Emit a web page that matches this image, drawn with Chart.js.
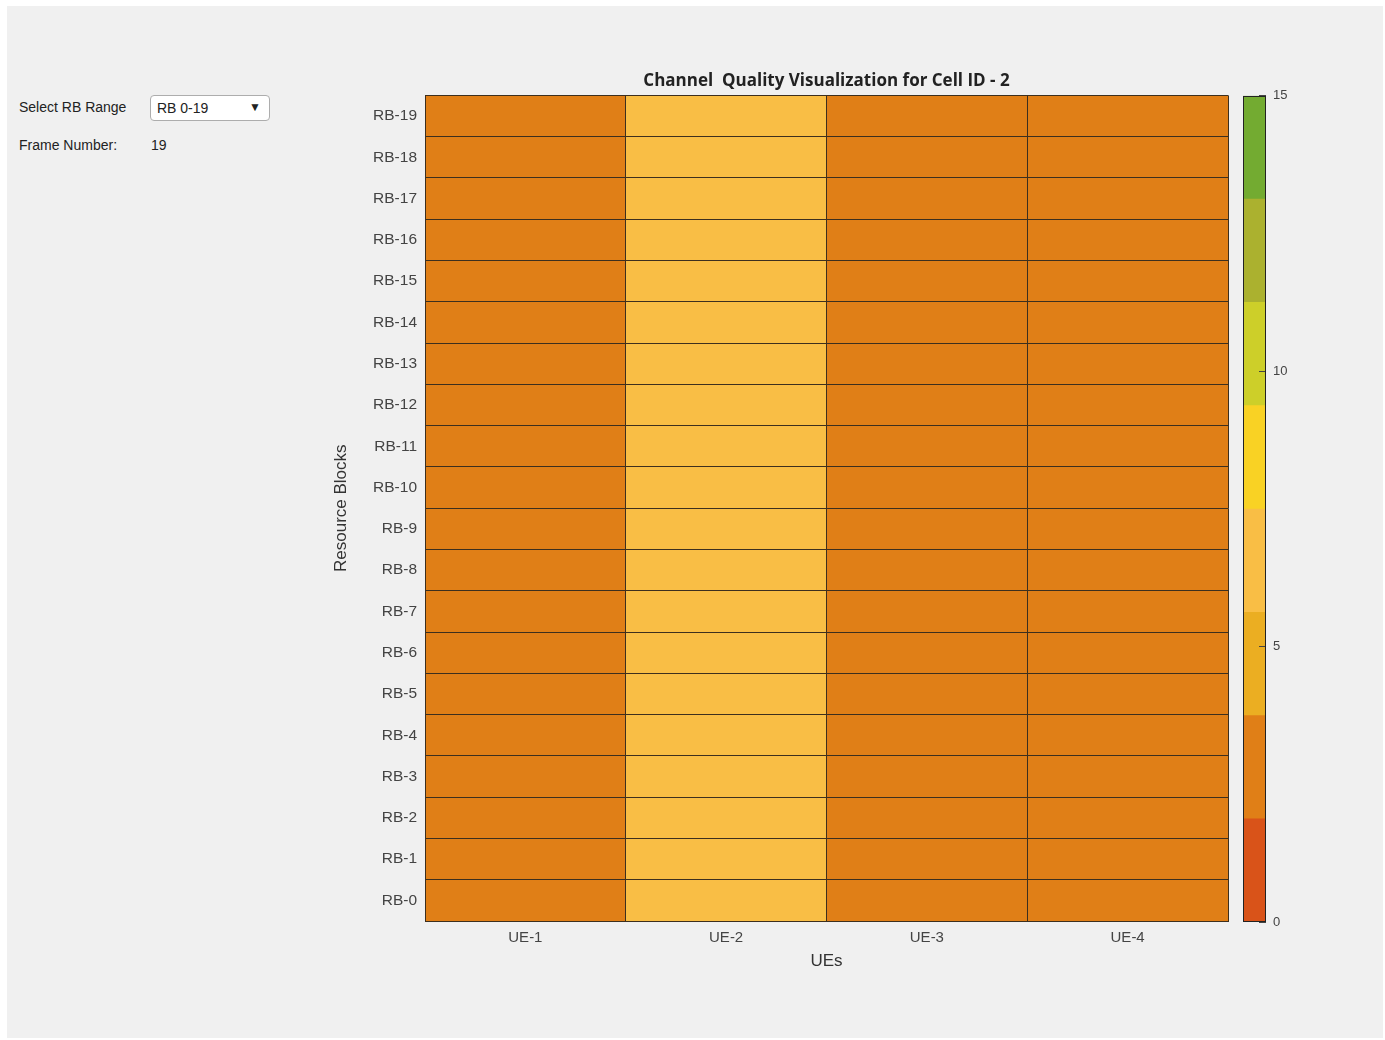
<!DOCTYPE html>
<html>
<head>
<meta charset="utf-8">
<script src="https://cdn.jsdelivr.net/npm/chart.js@4.4.0/dist/chart.umd.min.js"></script>
<style>
    body { margin: 0; background: #fff; font-family: "Liberation Sans", Arial, sans-serif; }
    #fig { position: absolute; left: 7px; top: 6px; width: 1376px; height: 1032px; background: #f0f0f0; }
    .lbl { position: absolute; font-size: 14px; color: #222; }
    #rbSelect {
        position: absolute; left: 143px; top: 89px; width: 120px; height: 26px;
        border: 1px solid #adadad; border-radius: 4px; background: #fff;
        font-size: 14px; color: #222; box-sizing: border-box; padding: 4px 6px;
    }
    #rbSelect span { position: absolute; right: 8px; top: 4px; font-size: 12px; }
    #heat { position: absolute; left: 313px; top: 54px; }
    #cbar { position: absolute; left: 1229px; top: 68px; }
</style>
</head>
<body>
<div id="fig">
    <div class="lbl" style="left:12px; top:93px;">Select RB Range</div>
    <div id="rbSelect">RB 0-19<span>&#9660;</span></div>
    <div class="lbl" style="left:12px; top:131px;">Frame Number:</div>
    <div class="lbl" style="left:144px; top:131px;">19</div>
    <canvas id="heat" width="1013" height="930"></canvas>
    <canvas id="cbar" width="70" height="870"></canvas>
</div>
<script>
// dati
const ues = ['UE-1', 'UE-2', 'UE-3', 'UE-4']
const rbs = ['RB-0', 'RB-1', 'RB-2', 'RB-3', 'RB-4', 'RB-5', 'RB-6', 'RB-7', 'RB-8', 'RB-9',
    'RB-10', 'RB-11', 'RB-12', 'RB-13', 'RB-14', 'RB-15', 'RB-16', 'RB-17', 'RB-18', 'RB-19']
// CQI per UE, RB-0 .. RB-19
const cqiUE1 = [3, 3, 3, 3, 3, 3, 3, 3, 3, 3, 3, 3, 3, 3, 3, 3, 3, 3, 3, 3]
const cqiUE2 = [6, 6, 6, 6, 6, 6, 6, 6, 6, 6, 6, 6, 6, 6, 6, 6, 6, 6, 6, 6]
const cqiUE3 = [3, 3, 3, 3, 3, 3, 3, 3, 3, 3, 3, 3, 3, 3, 3, 3, 3, 3, 3, 3]
const cqiUE4 = [3, 3, 3, 3, 3, 3, 3, 3, 3, 3, 3, 3, 3, 3, 3, 3, 3, 3, 3, 3]
const cbEdges = [0, 1.875, 3.75, 5.625, 7.5, 9.375, 11.25, 13.125, 15]
const cbTicks = [0, 5, 10, 15]
const cmap = ['#D95319', '#E07F17', '#EBAE22', '#F9BE45', '#F9D224', '#CDCF29', '#ABB12F', '#73AB31']

const cqi = [cqiUE1, cqiUE2, cqiUE3, cqiUE4]
const lineColor = '#3d2f1e'
const tickColor = '#444'

function colore(v) {
    for (let i = 0; i < cmap.length; i++) {
        if (v < cbEdges[i + 1]) return cmap[i]
    }
    return cmap[cmap.length - 1]
}

function inquadra(chart) {
    const a = chart.chartArea
    const ctx = chart.ctx
    ctx.save()
    ctx.strokeStyle = '#222'
    ctx.lineWidth = 1
    ctx.strokeRect(Math.round(a.left) + 0.5, Math.round(a.top) + 0.5,
        Math.round(a.right - a.left) - 1, Math.round(a.bottom - a.top) - 1)
    ctx.restore()
}

// una serie per ogni RB, impilate
let datasets = rbs.map((rb, r) => ({
    label: rb,
    data: ues.map(() => 1),
    backgroundColor: ues.map((u, c) => colore(cqi[c][r])),
    borderWidth: 0,
    barPercentage: 1,
    categoryPercentage: 1
}))

new Chart(document.getElementById('heat'), {
    type: 'bar',
    data: { labels: ues, datasets: datasets },
    options: {
        responsive: false,
        animation: false,
        plugins: {
            legend: { display: false },
            tooltip: { enabled: false },
            title: {
                display: true,
                text: 'Channel  Quality Visualization for Cell ID - 2',
                color: '#222',
                font: { family: 'Open Sans', size: 17, weight: 'bold' },
                padding: { top: 11, bottom: 4 }
            }
        },
        scales: {
            x: {
                stacked: true,
                grid: { offset: true, color: lineColor, drawTicks: false, z: 1 },
                border: { color: lineColor, z: 1 },
                ticks: { color: tickColor, font: { family: 'Liberation Sans', size: 15 }, padding: 8 },
                title: {
                    display: true, text: 'UEs', color: '#333',
                    font: { family: 'Liberation Sans', size: 17 }, padding: { top: 4, bottom: 18 }
                },
                afterFit: s => { s.height = 69 }
            },
            y: {
                stacked: true,
                min: 0,
                max: rbs.length,
                afterBuildTicks: s => { s.ticks = rbs.map((rb, i) => ({ value: i + 0.5 })) },
                grid: { offset: true, color: lineColor, drawTicks: false, z: 1 },
                border: { color: lineColor, z: 1 },
                ticks: {
                    color: tickColor, autoSkip: false, padding: 8,
                    font: { family: 'Liberation Sans', size: 15.5 },
                    callback: (v, i) => rbs[i]
                },
                title: {
                    display: true, text: 'Resource Blocks', color: '#333',
                    font: { family: 'Liberation Sans', size: 17 }, padding: { top: 11, bottom: 0 }
                },
                afterFit: s => { s.width = 105 }
            },
            // spazio a destra per centrare il titolo sul grafico
            margine: {
                position: 'right',
                grid: { display: false },
                border: { display: false },
                ticks: { display: false },
                afterFit: s => { s.width = 105 }
            }
        }
    }
})

// barra dei colori
let cbDatasets = cmap.map((c, i) => ({
    data: [[cbEdges[i], cbEdges[i + 1]]],
    backgroundColor: c,
    borderWidth: 0,
    barPercentage: 1,
    categoryPercentage: 1
}))

new Chart(document.getElementById('cbar'), {
    type: 'bar',
    data: { labels: ['CQI'], datasets: cbDatasets },
    options: {
        responsive: false,
        animation: false,
        layout: { padding: { left: 7, top: 10, bottom: 14 } },
        plugins: { legend: { display: false }, tooltip: { enabled: false } },
        scales: {
            x: { display: false, stacked: true },
            y: {
                position: 'right',
                min: 0,
                max: 15,
                afterBuildTicks: s => { s.ticks = cbTicks.map(v => ({ value: v })) },
                grid: { drawOnChartArea: false, drawTicks: true, tickLength: -7, color: '#444', z: 1 },
                border: { display: false },
                ticks: { color: tickColor, padding: 14, font: { family: 'Liberation Sans', size: 13 } },
                afterFit: s => { s.width = 40 }
            }
        }
    },
    plugins: [{ id: 'cornice', afterDraw: inquadra }]
})
</script>
</body>
</html>
